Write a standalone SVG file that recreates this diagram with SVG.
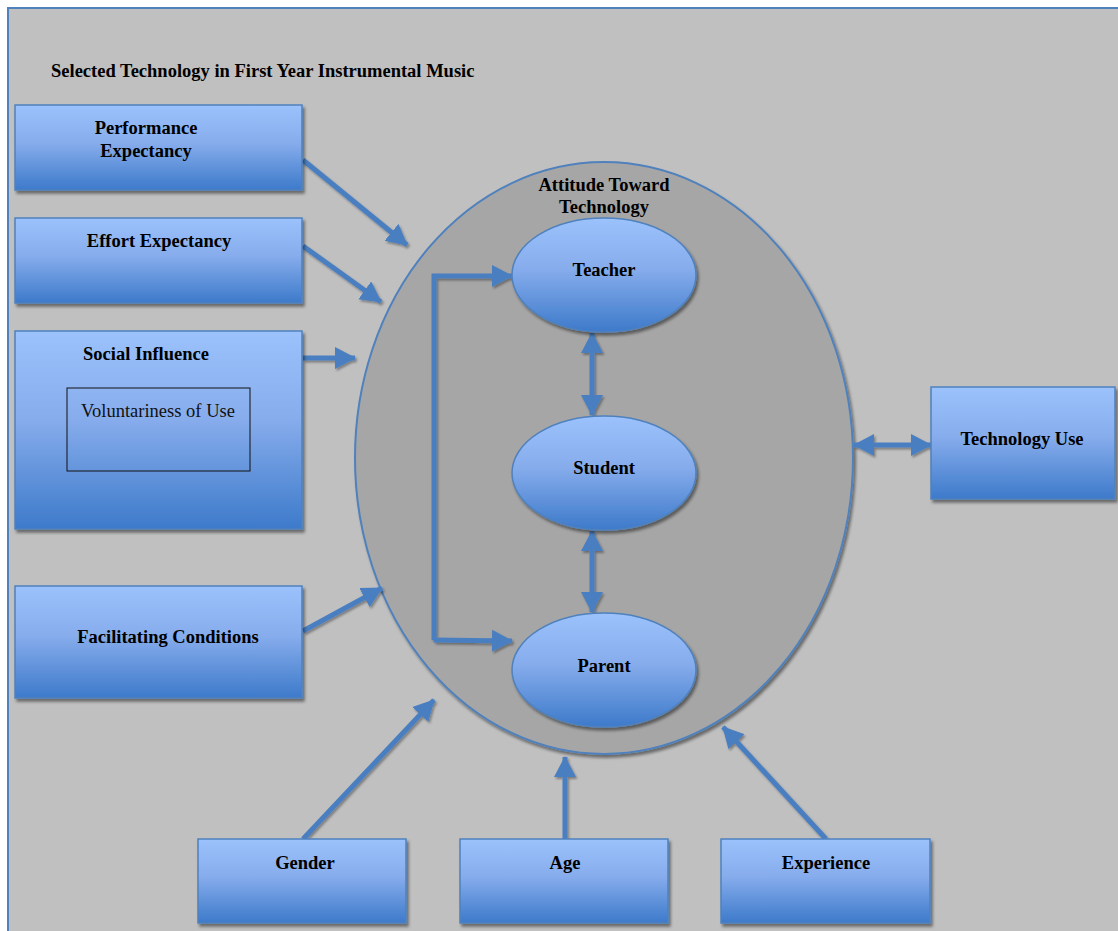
<svg xmlns="http://www.w3.org/2000/svg" width="1118" height="931" viewBox="0 0 1118 931">
  <defs>
    <linearGradient id="blueFill" x1="0" y1="0" x2="0" y2="1">
      <stop offset="0" stop-color="#9cc2fc"/>
      <stop offset="0.45" stop-color="#86acec"/>
      <stop offset="1" stop-color="#3d7aca"/>
    </linearGradient>
    <filter id="shadow" x="-10%" y="-10%" width="130%" height="130%">
      <feDropShadow dx="2" dy="3" stdDeviation="1.8" flood-color="#000" flood-opacity="0.45"/>
    </filter>
    <filter id="lineShadow" x="-20%" y="-20%" width="140%" height="140%">
      <feDropShadow dx="1.5" dy="2" stdDeviation="1.2" flood-color="#000" flood-opacity="0.35"/>
    </filter>
    <marker id="head" markerUnits="userSpaceOnUse" markerWidth="24" markerHeight="24" refX="20" refY="11" orient="auto-start-reverse" viewBox="0 0 24 24">
      <path d="M0,0 L21,11 L0,22 Z" fill="#4a7fc1"/>
    </marker>
    <style>
      .box { fill: url(#blueFill); stroke: #4f81bd; stroke-width: 1.5; filter: url(#shadow); }
      .oval { fill: url(#blueFill); stroke: #4f81bd; stroke-width: 1.5; filter: url(#shadow); }
      .lbl { font-family: "Liberation Serif", "DejaVu Serif", serif; font-weight: bold; font-size: 18.5px; fill: #000; text-anchor: middle; }
      .plain { font-family: "Liberation Serif", "DejaVu Serif", serif; font-size: 18.5px; fill: #111; text-anchor: middle; }
      .conn path, .conn line { fill: none; stroke: #4a7fc1; stroke-width: 5; }
    </style>
  </defs>

  <!-- page background and frame -->
  <rect x="0" y="0" width="1118" height="931" fill="#ffffff"/>
  <rect x="8" y="8" width="1125" height="940" fill="#c0c0c0" stroke="#4f81bd" stroke-width="2"/>

  <text x="51" y="77" class="lbl" style="text-anchor:start">Selected Technology in First Year Instrumental Music</text>

  <!-- central attitude ellipse -->
  <g id="attitude">
    <ellipse cx="604" cy="458" rx="249" ry="296" fill="#a6a6a6" stroke="#4f81bd" stroke-width="2" filter="url(#shadow)"/>
    <text x="604" y="191" class="lbl">Attitude Toward</text>
    <text x="604" y="213" class="lbl">Technology</text>
  </g>

  <!-- connectors -->
  <g id="connectors" class="conn" filter="url(#lineShadow)">
    <line x1="303" y1="160" x2="407" y2="245" marker-end="url(#head)"/>
    <line x1="303" y1="246" x2="381" y2="302" marker-end="url(#head)"/>
    <line x1="303" y1="358" x2="355" y2="358" marker-end="url(#head)"/>
    <line x1="303" y1="631" x2="382" y2="588" marker-end="url(#head)"/>
    <path d="M434,640 L434,276 L512,276" marker-end="url(#head)"/>
    <path d="M434,640 L512,641" marker-end="url(#head)"/>
    <line x1="592" y1="333" x2="592" y2="415" marker-start="url(#head)" marker-end="url(#head)"/>
    <line x1="592" y1="531" x2="592" y2="612" marker-start="url(#head)" marker-end="url(#head)"/>
    <line x1="854" y1="445" x2="931" y2="445" marker-start="url(#head)" marker-end="url(#head)"/>
    <line x1="303" y1="839" x2="434" y2="700" marker-end="url(#head)"/>
    <line x1="565" y1="839" x2="565" y2="757" marker-end="url(#head)"/>
    <line x1="826" y1="839" x2="723" y2="727" marker-end="url(#head)"/>
  </g>

  <!-- inner actors -->
  <g id="teacher">
    <ellipse cx="604" cy="275" rx="92" ry="57" class="oval"/>
    <text x="604" y="276" class="lbl">Teacher</text>
  </g>
  <g id="student">
    <ellipse cx="604" cy="473" rx="92" ry="57" class="oval"/>
    <text x="604" y="474" class="lbl">Student</text>
  </g>
  <g id="parent">
    <ellipse cx="604" cy="670" rx="92" ry="57" class="oval"/>
    <text x="604" y="672" class="lbl">Parent</text>
  </g>

  <!-- determinants -->
  <g id="performance">
    <rect x="15" y="105" width="287" height="85" class="box"/>
    <text x="146" y="134" class="lbl">Performance</text>
    <text x="146" y="157" class="lbl">Expectancy</text>
  </g>
  <g id="effort">
    <rect x="15" y="218" width="287" height="85" class="box"/>
    <text x="159" y="247" class="lbl">Effort Expectancy</text>
  </g>
  <g id="social">
    <rect x="15" y="331" width="287" height="198" class="box"/>
    <text x="146" y="360" class="lbl">Social Influence</text>
    <rect x="67" y="388" width="183" height="83" fill="none" stroke="#111" stroke-width="1"/>
    <text x="158" y="417" class="plain">Voluntariness of Use</text>
  </g>
  <g id="facilitating">
    <rect x="15" y="586" width="287" height="112" class="box"/>
    <text x="168" y="643" class="lbl">Facilitating Conditions</text>
  </g>
  <g id="techuse">
    <rect x="931" y="387" width="184" height="112" class="box"/>
    <text x="1022" y="445" class="lbl">Technology Use</text>
  </g>

  <!-- moderators -->
  <g id="gender">
    <rect x="198" y="839" width="208" height="84" class="box"/>
    <text x="305" y="869" class="lbl">Gender</text>
  </g>
  <g id="age">
    <rect x="460" y="839" width="208" height="84" class="box"/>
    <text x="565" y="869" class="lbl">Age</text>
  </g>
  <g id="experience">
    <rect x="721" y="839" width="209" height="84" class="box"/>
    <text x="826" y="869" class="lbl">Experience</text>
  </g>
</svg>
